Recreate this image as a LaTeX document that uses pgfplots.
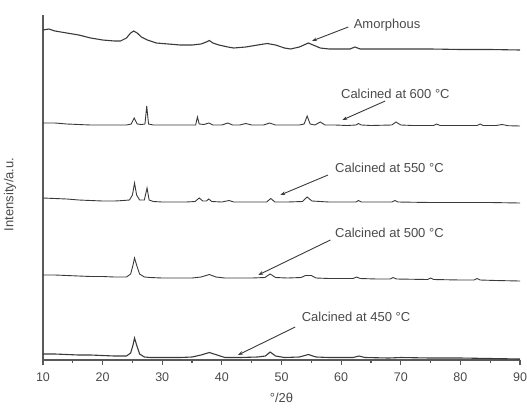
\documentclass[border=0pt]{standalone}
\usepackage{pgfplots}
\pgfplotsset{compat=1.18}
\usepackage{fontspec}
\setmainfont{Liberation Sans}
\usetikzlibrary{arrows.meta}
\definecolor{ln}{HTML}{3A3A3A}
\definecolor{txt}{HTML}{4A4A4A}
\begin{document}
\begin{tikzpicture}
\begin{axis}[
  scale only axis,
  width=477pt, height=345pt,
  xmin=10, xmax=90, ymin=0, ymax=345,
  axis x line=bottom, axis y line=left,
  axis line style={-, line width=1.6pt, color=black!65},
  xtick={10,20,...,90},
  minor xtick={15,25,...,85},
  ytick=\empty,
  tick align=outside,
  major tick length=5pt, minor tick length=3pt,
  tick style={line width=1.2pt, color=black!65},
  /pgf/number format/assume math mode=true,
  ticklabel style={font=\fontsize{12.5}{14}\selectfont, text=txt},
  xticklabel style={yshift=-4pt},
  xlabel={°/2θ},
  ylabel={Intensity/a.u.},
  label style={font=\fontsize{13}{15}\selectfont, text=txt},
  xlabel style={at={(axis description cs:0.5,0)}, anchor=center, yshift=-38pt},
  ylabel style={at={(axis description cs:-0.069,0.48)}, anchor=center},
  clip=false,
]
% Amorphous
\addplot[ln, line width=1.1pt] coordinates {(10,330)(11,331)(12,329)(14,327)(16,325)(18,322)(20,320)(22,319)(23,319)(24,322)(24.7,327)(25.2,329)(25.8,327)(26.5,323)(27.5,320)(29,317)(31,316)(33,315)(35,315)(36.5,316)(37.4,318)(37.9,319.5)(38.5,317)(39.5,315)(41,313)(42,312)(44,313)(46,315)(47.6,316.5)(49,315)(50.5,312)(51.5,311)(53,313)(54.5,317)(55.3,315)(56.5,312)(58,311)(60,311)(61.5,311)(62.3,313)(63.2,311)(65,311)(70,311)(75,311)(80,310.5)(85,310.5)(90,310)};
% 600
\addplot[ln, line width=0.9pt] coordinates {(10,237)(12,237)(14,236)(16,235.5)(18,235)(20,235)(22,235)(24,235)(24.8,236)(25.3,242)(25.8,236)(26.5,235.5)(27.1,236)(27.4,254)(27.7,236)(28.5,235)(30,235)(32,235)(34,235)(35.6,235)(35.9,243)(36.2,236)(37,235.5)(37.8,237)(38.5,235)(40,235)(41,237)(41.8,235)(43,235)(44,236.5)(45,235)(47,235)(48,237)(49,235)(51,235)(53,235)(53.8,236)(54.3,244)(54.8,236)(55.6,235)(56.5,238)(57.3,235)(59,235)(61,234.5)(62.5,235)(62.9,236.5)(63.4,235)(65,234.5)(68.5,235)(69.2,238)(70,235)(72,234.5)(75.5,234.5)(76,236)(76.6,234.5)(80,234.5)(82.8,234.5)(83.3,236)(83.8,234.5)(86,234.5)(87,235.5)(88,234.3)(90,234)};
% 550
\addplot[ln, line width=0.9pt] coordinates {(10,162)(12,161.5)(14,161)(16,160)(18,159.5)(20,159)(22,159)(23.5,159.5)(24.5,160)(25,165)(25.35,177)(25.7,165)(26.2,160)(27,160)(27.45,172)(27.8,160)(28.5,158.5)(30,158)(32,158)(34,158)(35.5,158.5)(36.2,162)(36.8,159)(37.4,159)(37.8,161)(38.3,158.5)(40,158)(41.2,159.5)(42,158)(45,158)(47.5,158)(48.2,161.5)(48.9,158)(51,158)(53.5,158.5)(54.3,163)(55.1,159)(56.5,158.5)(58,158)(62.5,158)(62.9,159.5)(63.4,158)(68.5,158)(69,159.5)(69.5,158)(75,157.5)(80,157.5)(85,157.5)(90,157)};
% 500
\addplot[ln, line width=0.9pt] coordinates {(10,85)(12,85)(14,84.5)(16,84)(18,83.5)(20,83.5)(22,83)(24,83)(24.7,86)(25.1,95)(25.35,102)(25.7,95)(26.2,86)(27,83)(28,82.5)(30,82)(33,82)(35,82)(36.5,83)(37.9,85.5)(39,83)(40.5,82)(43,82)(45,82)(47.2,82.5)(48.1,86)(49,82.5)(51,82)(53.3,82.5)(54,84.5)(55,84.5)(55.8,82)(58,81.5)(62,81.5)(62.6,83)(63.2,81.5)(66,81)(68.2,81)(68.7,82.5)(69.3,81)(74.5,80.5)(75,82)(75.5,80.5)(80,80)(82.3,80)(82.8,81.5)(83.3,80)(86,79.5)(90,79)};
% 450
\addplot[ln, line width=1.1pt] coordinates {(10,6)(12,6)(14,5.5)(16,5)(18,5)(20,4.5)(22,4)(24,4)(24.7,7)(25.1,15)(25.35,22)(25.7,15)(26.2,6)(27,3)(28,2.5)(30,2.5)(33,2.5)(35,3)(36.5,5)(37.9,7.5)(39.2,5)(40.5,2.5)(43,2.5)(46,3)(47.3,4)(48.1,8)(49,4)(50.5,2.5)(53,3)(54.5,5.5)(55.8,3)(58,2.5)(62,2.5)(63,4)(64,2.5)(68,2)(70,2.5)(75,2)(80,2)(85,1.5)(90,1)};
% annotations
\tikzset{ann/.style={font=\fontsize{13}{15}\selectfont, text=txt}, arr/.style={-{Stealth[length=5pt,width=3.5pt]}, line width=0.9pt, color=ln}}
\node[ann] at (axis cs:67.7,335) {Amorphous};
\draw[arr] (axis cs:61.2,333) -- (axis cs:55.1,319);
\node[ann] at (axis cs:69.1,266) {Calcined at 600 °C};
\draw[arr] (axis cs:67.4,259) -- (axis cs:60.2,240);
\node[ann] at (axis cs:68.1,192) {Calcined at 550 °C};
\draw[arr] (axis cs:57.8,185) -- (axis cs:49.8,165);
\node[ann] at (axis cs:68.1,127) {Calcined at 500 °C};
\draw[arr] (axis cs:58.2,120) -- (axis cs:46.1,85);
\node[ann] at (axis cs:62.5,43) {Calcined at 450 °C};
\draw[arr] (axis cs:52.3,33) -- (axis cs:42.7,5);
\end{axis}
\pgfresetboundingbox
\useasboundingbox ([xshift=-43pt,yshift=15pt]current axis.north west) rectangle ([xshift=7pt,yshift=-48pt]current axis.south east);
\end{tikzpicture}
\end{document}
